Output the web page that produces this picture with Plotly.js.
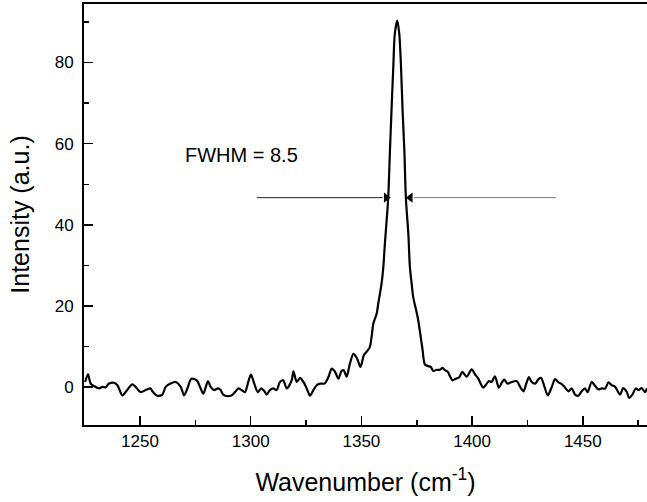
<!DOCTYPE html>
<html>
<head>
<meta charset="utf-8">
<script src="https://cdn.plot.ly/plotly-3.0.1.min.js"></script>
<style>html,body{margin:0;padding:0;background:#fff}#chart{width:647px;height:502px}</style>
</head>
<body>
<div id="chart"></div>
<script>
// Wavenumber (cm^-1)
const wavenumber = [
1225.2,1226.5,1227.7,1229.2,1231.5,1233.0,1234.5,1236.0,1238.3,1239.8,
1242.0,1243.5,1246.5,1248.0,1250.3,1252.6,1254.8,1255.6,1257.8,1260.1,
1261.6,1263.8,1266.1,1268.4,1269.9,1271.4,1273.2,1275.6,1277.4,1278.6,
1280.7,1281.9,1283.4,1285.2,1286.4,1287.6,1289.4,1291.4,1292.9,1294.4,
1295.9,1297.4,1298.9,1300.1,1301.6,1303.2,1304.7,1306.2,1307.2,1308.7,
1310.2,1311.7,1313.2,1314.7,1316.3,1318.5,1319.3,1320.8,1322.3,1323.8,
1325.3,1326.8,1328.3,1329.8,1331.3,1333.3,1335.1,1336.6,1338.1,1339.6,
1341.0,1342.0,1343.3,1344.8,1346.4,1348.1,1349.6,1351.1,1352.3,1353.8,
1354.6,1355.4,1356.9,1357.6,1359.1,1359.9,1360.6,1361.4,1362.1,1362.9,
1363.6,1364.4,1365.1,1366.2,1367.1,1367.9,1368.6,1369.4,1370.1,1371.2,
1371.9,1372.7,1373.4,1374.5,1375.5,1376.5,1377.6,1378.7,1380.2,1381.3,
1382.5,1384.0,1385.5,1386.7,1387.7,1389.0,1390.0,1391.2,1392.6,1394.1,
1395.6,1397.5,1399.8,1401.3,1402.8,1405.0,1406.1,1407.6,1408.8,1410.3,
1412.1,1413.6,1414.5,1416.0,1417.9,1420.2,1421.7,1423.2,1424.7,1425.7,
1426.9,1428.5,1430.0,1431.2,1432.7,1434.2,1436.0,1437.5,1439.0,1440.2,
1441.7,1443.5,1445.0,1446.5,1448.0,1449.5,1451.0,1452.2,1454.0,1455.6,
1457.1,1458.6,1460.1,1461.6,1463.1,1464.6,1466.8,1468.3,1469.9,1470.9,
1472.4,1473.9,1475.1,1476.6,1478.1,1479.0
];
// Intensity (a.u.)
const intensity = [
1.3,3.2,0.9,0.3,-0.3,0.1,0.0,0.9,1.1,0.5,
-2.0,-1.2,0.7,0.1,-1.2,-0.7,-0.3,-1.0,-2.1,-1.8,
0.1,0.9,1.3,0.1,-2.0,-0.3,2.1,1.7,-0.3,-1.6,
1.5,0.1,-0.7,-0.3,-0.7,-1.8,-2.2,-2.0,-1.2,-0.3,
-0.7,-1.2,1.3,3.1,0.9,-1.2,-0.3,-1.0,-1.8,-0.7,
-0.3,-0.7,1.3,1.7,-0.3,1.7,3.9,1.3,2.3,1.3,
-0.3,-2.1,-0.7,0.5,0.9,0.9,2.5,4.6,3.8,2.1,
4.0,4.2,2.6,5.8,8.2,7.0,5.0,7.9,8.7,9.9,
12.4,15.7,18.1,20.6,25.5,29.6,35.3,41.1,46.5,58.3,
68.2,78.8,87.1,90.3,87.1,78.8,68.2,58.3,46.5,37.8,
29.6,25.5,22.2,19.5,17.0,13.5,9.3,5.6,5.2,5.0,
4.0,4.3,4.3,4.8,4.2,3.8,2.7,1.7,2.1,2.4,
3.8,2.6,4.4,3.2,2.1,-0.1,0.5,1.5,1.3,2.7,
-0.1,1.3,1.9,0.9,1.3,1.5,0.1,-1.0,1.3,2.5,
1.3,0.9,2.0,2.3,0.1,-2.0,0.1,2.0,1.2,0.9,
0.1,-1.0,-0.3,-1.8,-2.1,-1.0,-0.3,-1.2,1.3,0.3,
-0.5,-0.3,-0.3,1.2,0.5,0.1,-1.8,-0.2,-1.2,-2.6,
-1.8,-0.3,-0.7,-0.2,-1.2,-0.3
];
// FWHM annotation
const fwhmLabel = "FWHM = 8.5";
const fwhmLabelPos = [1269.4, 57.1];
const fwhmLevel = 46.7;
const leftArrowX = [1302.7, 1359.6];   // [start, head base]
const rightArrowX = [1437.9, 1373.7];  // [start, head base]
const arrowTipX = [1361.2, 1372.1];    // head centres
const xRange = [1224.7, 1479.0];
const yRange = [-9.3, 94.4];

const FONT = "Arial, 'Liberation Sans', sans-serif";

const trace = {
  x: wavenumber, y: intensity, type: 'scatter', mode: 'lines',
  line: {color: '#000', width: 2.2, shape: 'spline', smoothing: 0.8},
  hoverinfo: 'skip'
};

const heads = {
  x: arrowTipX, y: [fwhmLevel, fwhmLevel], type: 'scatter', mode: 'markers',
  marker: {symbol: ['triangle-right', 'triangle-left'], size: 9, color: '#000', line: {width: 0}},
  hoverinfo: 'skip'
};

const layout = {
  width: 647, height: 502,
  margin: {l: 84, r: 0, t: 4, b: 76.5},
  paper_bgcolor: '#fff', plot_bgcolor: '#fff',
  showlegend: false,
  font: {family: FONT, color: '#000'},
  xaxis: {
    range: xRange, dtick: 50, tick0: 1250,
    ticks: 'inside', ticklen: 9, tickwidth: 1.5, tickcolor: '#000',
    minor: {dtick: 25, tick0: 1225, ticks: 'inside', ticklen: 5, tickwidth: 1.5, tickcolor: '#000'},
    showline: true, linecolor: '#000', linewidth: 2, mirror: true,
    showgrid: false, zeroline: false,
    tickfont: {size: 17, family: FONT, color: '#000'},
    title: {text: 'Wavenumber (cm<sup>-1</sup>)', font: {size: 25, family: FONT, color: '#000'}, standoff: 23}
  },
  yaxis: {
    range: yRange, dtick: 20, tick0: 0,
    ticks: 'inside', ticklen: 9, tickwidth: 1.5, tickcolor: '#000',
    minor: {dtick: 10, tick0: 0, ticks: 'inside', ticklen: 5, tickwidth: 1.5, tickcolor: '#000'},
    showline: true, linecolor: '#000', linewidth: 2,
    showgrid: false, zeroline: false,
    ticklabelstandoff: 5,
    tickfont: {size: 17, family: FONT, color: '#000'},
    title: {text: 'Intensity (a.u.)', font: {size: 25, family: FONT, color: '#000'}, standoff: 18}
  },
  shapes: [
    {type: 'line', xref: 'x', yref: 'y', x0: leftArrowX[0], x1: leftArrowX[1], y0: fwhmLevel, y1: fwhmLevel,
     line: {color: '#222', width: 1}},
    {type: 'line', xref: 'x', yref: 'y', x0: rightArrowX[0], x1: rightArrowX[1], y0: fwhmLevel, y1: fwhmLevel,
     line: {color: '#777', width: 1}}
  ],
  annotations: [
    {x: fwhmLabelPos[0], y: fwhmLabelPos[1], xref: 'x', yref: 'y', text: fwhmLabel,
     showarrow: false, xanchor: 'left', yanchor: 'middle', font: {size: 20, family: FONT, color: '#000'}}
  ]
};

Plotly.newPlot('chart', [trace, heads], layout, {staticPlot: true, displayModeBar: false});
</script>
</body>
</html>
